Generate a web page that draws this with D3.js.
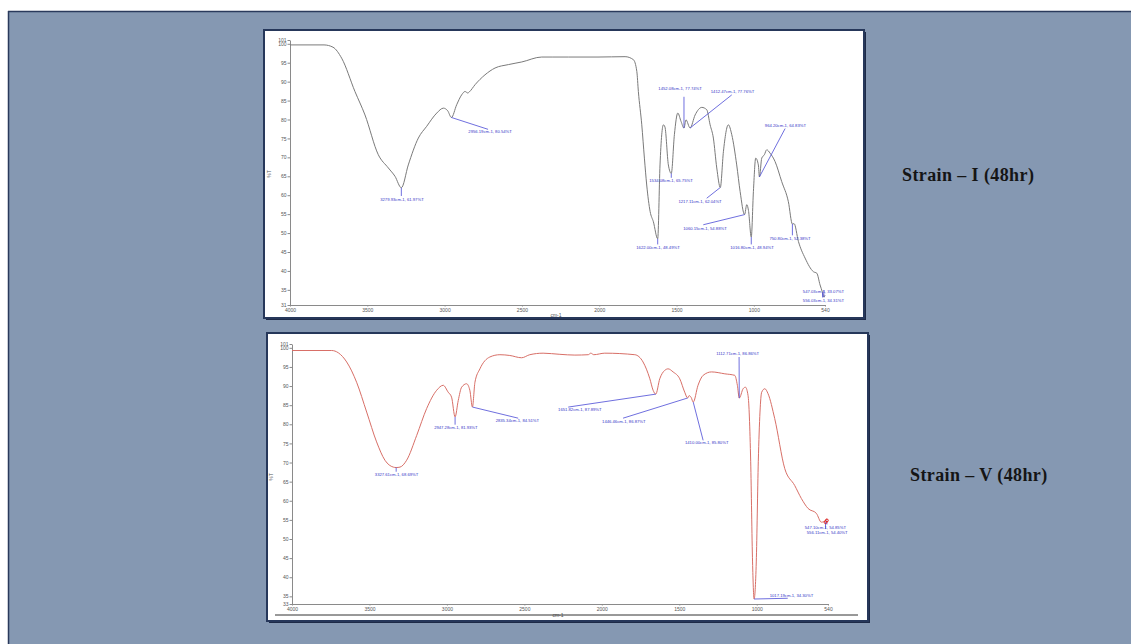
<!DOCTYPE html>
<html><head><meta charset="utf-8">
<script src="https://cdn.jsdelivr.net/npm/d3@7"></script>
<style>body{margin:0;background:#fff;} svg{display:block}</style>
</head><body>
<svg id="c" width="1131" height="644"></svg>
<script>
// ---------- DATA ----------
const xTickValues = [4000, 3500, 3000, 2500, 2000, 1500, 1000, 540];
const topYTicks = [101, 100, 95, 90, 85, 80, 75, 70, 65, 60, 55, 50, 45, 40, 35, 31];
const botYTicks = [101, 100, 95, 90, 85, 80, 75, 70, 65, 60, 55, 50, 45, 40, 35, 33];

const topTitle = "Strain \u2013 I (48hr)";
const botTitle = "Strain \u2013 V (48hr)";

// Strain I spectrum (wavenumber cm-1, %T)
const topWavenumber = [4000, 3780, 3722, 3666, 3580, 3515, 3429, 3364, 3321, 3279.93, 3235, 3170, 3116, 3051, 3008, 2980, 2956.19, 2922, 2890, 2868, 2850, 2840, 2803, 2739, 2674, 2588, 2501, 2372, 2300, 2200, 2008, 1833, 1779, 1757, 1747, 1725, 1708, 1693, 1671, 1650, 1622, 1607, 1585, 1575, 1553, 1534.08, 1514, 1492, 1471, 1452.08, 1439, 1412.47, 1380, 1337, 1305, 1283, 1262, 1240, 1217.11, 1197, 1165, 1143, 1111, 1089, 1060.15, 1046, 1035, 1016.8, 1003, 988, 971, 964.2, 949, 932, 917, 895, 863, 820, 777, 750.8, 740, 712, 669, 615, 593, 572, 556.03, 547.03, 540];
const topTransmittance = [99.7, 99.7, 99.1, 96.2, 87.4, 81.2, 70.7, 67.2, 65.0, 61.97, 68.0, 75.1, 78.2, 81.7, 83.0, 82.3, 80.54, 83.9, 86.5, 87.4, 87.0, 87.3, 89.2, 91.8, 93.6, 94.5, 95.2, 96.5, 96.5, 96.5, 96.5, 96.6, 95.8, 92.7, 87.4, 78.6, 69.8, 62.7, 55.7, 53.0, 48.49, 68.0, 78.6, 78.0, 68.0, 65.75, 76.0, 81.7, 79.5, 77.74, 79.9, 77.76, 81.2, 83.2, 82.6, 78.6, 75.1, 67.2, 62.04, 71.5, 78.6, 76.0, 68.0, 61.0, 54.88, 57.5, 56.0, 48.94, 61.0, 69.8, 68.0, 64.83, 69.8, 70.7, 72.0, 71.1, 68.9, 63.6, 58.3, 52.38, 52.5, 47.8, 43.4, 39.8, 39.4, 36.3, 34.31, 33.07, 33.6];

// Strain V spectrum
const botWavenumber = [4000, 3744, 3701, 3647, 3583, 3518, 3454, 3400, 3346, 3327.61, 3303, 3260, 3195, 3131, 3066, 3024, 2992, 2970, 2947.28, 2927, 2905, 2873, 2852, 2835.34, 2819, 2787, 2723, 2658, 2594, 2518, 2465, 2379, 2271, 2174, 2088, 2071, 2052, 1981, 1787, 1734, 1690, 1669, 1651.82, 1626, 1594, 1572, 1540, 1497, 1465, 1446.46, 1437, 1423, 1410.0, 1379, 1346, 1292, 1206, 1142, 1125, 1112.71, 1088, 1073, 1056, 1039, 1027, 1017.19, 1003, 990, 979, 968, 948, 927, 884, 819, 755, 712, 669, 615, 583, 556.11, 547.1, 540];
const botTransmittance = [99.3, 99.3, 98.7, 96.3, 91.0, 83.2, 75.4, 70.6, 68.8, 68.69, 68.8, 70.6, 77.1, 84.1, 88.9, 90.2, 88.4, 87.1, 81.93, 86.2, 89.7, 90.6, 88.9, 84.51, 91.0, 94.5, 97.6, 98.2, 98.0, 97.4, 98.2, 98.6, 98.3, 98.1, 98.2, 98.6, 98.2, 98.6, 98.2, 96.3, 91.9, 88.9, 87.89, 91.9, 94.1, 94.5, 93.7, 91.9, 88.4, 86.87, 87.5, 87.0, 85.80, 90.2, 92.8, 93.7, 93.2, 92.8, 90.2, 86.86, 89.3, 89.7, 87.5, 70.2, 44.0, 34.30, 44.0, 70.2, 83.2, 88.4, 89.3, 88.0, 81.5, 68.4, 64.0, 60.6, 58.0, 56.7, 54.40, 54.85, 55.3];

// Peak annotations: peak [wavenumber, %T] and label text
const topPeakW = [3279.93, 2956.19, 1622.00, 1534.08, 1452.08, 1412.47, 1217.11, 1060.15, 1016.80, 964.20, 750.80, 547.03, 556.03];
const topPeakT = [61.97, 80.54, 48.49, 65.75, 77.74, 77.76, 62.04, 54.88, 48.94, 64.83, 52.38, 33.07, 34.31];
const botPeakW = [3327.61, 2947.28, 2835.34, 1651.82, 1446.46, 1410.00, 1112.71, 1017.19, 547.10, 556.11];
const botPeakT = [68.69, 81.93, 84.51, 87.89, 86.87, 85.80, 86.86, 34.30, 54.85, 54.40];

// ---------- LAYOUT (label anchors in data units: [textW, textT, leaderEndW, leaderEndT]) ----------
const topLabelAt = [
  [3276, 58.8, 3279.93, 59.8], [2706, 76.8, 2719, 77.4], [1620, 46.1, 1622, 47.0], [1536, 63.8, 1534.08, 64.6],
  [1477, 88.1, 1452.08, 86.0], [1138, 87.2, 1143, 86.5], [1348, 58.2, 1305, 59.2], [1316, 51.1, 1327, 52.2],
  [1012, 46.0, 1016.8, 47.0], [796, 78.4, 798, 77.6], [766, 48.5, 750.8, 49.4], [550, 34.4, 547.03, 34.9], [550, 32.1, 556.03, 33.0]
];
const botLabelAt = [
  [3325, 66.8, 3327.61, 67.6], [2942, 79.1, 2947.28, 79.9], [2545, 80.9, 2540, 81.6], [2142, 83.8, 2217, 84.5],
  [1858, 80.6, 1863, 81.6], [1323, 75.1, 1346, 75.8], [1123, 98.4, 1114, 97.6], [776, 35.2, 800, 34.5],
  [557, 53.0, 547.1, 53.8], [545, 51.6, 556.11, 52.6]
];

const svg = d3.select('#c');

// outer slide background
svg.append('rect').attr('x', 8).attr('y', 11).attr('width', 1123).attr('height', 633).attr('fill', '#8598b2');
svg.append('line').attr('x1', 8).attr('x2', 1131).attr('y1', 11.5).attr('y2', 11.5).attr('stroke', '#2a3a5c').attr('stroke-width', 1.5);
svg.append('line').attr('x1', 8.5).attr('x2', 8.5).attr('y1', 11).attr('y2', 644).attr('stroke', '#2a3a5c').attr('stroke-width', 1.5);

function drawPanel(cfg) {
  const g = svg.append('g');
  const p = cfg.panel;
  g.append('rect').attr('x', p.x + 2).attr('y', p.y + 2).attr('width', p.w).attr('height', p.h).attr('fill', '#1d2a47');
  g.append('rect').attr('x', p.x).attr('y', p.y).attr('width', p.w).attr('height', p.h)
    .attr('fill', '#fff').attr('stroke', '#26375a').attr('stroke-width', 2);

  const x = d3.scaleLinear().domain([4000, 540]).range(cfg.xRange);
  const y = d3.scaleLinear().domain(cfg.yDomain).range(cfg.yRange);

  const yAxis = d3.axisLeft(y).tickValues(cfg.yTicks).tickSize(2.5).tickSizeOuter(0).tickPadding(1).tickFormat(d3.format('d'));
  const yg = g.append('g').attr('transform', `translate(${cfg.xRange[0]},0)`).call(yAxis);
  const xAxis = d3.axisBottom(x).tickValues(xTickValues).tickSize(1.5).tickSizeOuter(0).tickPadding(1.5).tickFormat(d3.format('d'));
  const xg = g.append('g').attr('transform', `translate(0,${cfg.yRange[0]})`).call(xAxis);
  [yg, xg].forEach(a => {
    a.select('.domain').attr('stroke', '#8a8a8a').attr('stroke-width', 1);
    a.selectAll('.tick line').attr('stroke', '#8a8a8a');
    a.selectAll('.tick text').attr('fill', '#555').style('font-size', '5px').style('font-family', 'Liberation Sans, Arial, sans-serif');
  });

  g.append('text').attr('transform', `translate(${cfg.yLabel[0]},${cfg.yLabel[1]}) rotate(-90)`)
    .attr('text-anchor', 'middle').attr('fill', '#555').style('font-size', '5px').style('font-family', 'Liberation Sans, Arial, sans-serif').text('%T');
  g.append('text').attr('x', cfg.xLabel[0]).attr('y', cfg.xLabel[1]).attr('text-anchor', 'middle')
    .attr('fill', '#555').style('font-size', '5px').style('font-family', 'Liberation Sans, Arial, sans-serif').text('cm-1');

  if (cfg.extraLineY) {
    g.append('line').attr('x1', cfg.extraLine[0]).attr('x2', cfg.extraLine[1]).attr('y1', cfg.extraLineY).attr('y2', cfg.extraLineY)
      .attr('stroke', '#333').attr('stroke-width', 1);
  }

  const pts = cfg.w.map((w, i) => [w, cfg.t[i]]);
  const line = d3.line().x(d => x(d[0])).y(d => y(d[1])).curve(d3.curveMonotoneX);
  g.append('path').datum(pts).attr('d', line).attr('fill', 'none').attr('stroke', cfg.color).attr('stroke-width', 1);

  // annotations
  cfg.peakW.forEach((pw, i) => {
    const la = cfg.labelAt[i];
    g.append('line').attr('x1', x(pw)).attr('y1', y(cfg.peakT[i])).attr('x2', x(la[2])).attr('y2', y(la[3]))
      .attr('stroke', '#4a4ad6').attr('stroke-width', 0.8);
    g.append('text').attr('x', x(la[0])).attr('y', y(la[1])).attr('text-anchor', 'middle').attr('dominant-baseline', 'middle')
      .attr('fill', '#3535c8').style('font-size', '4.2px').style('font-family', 'Liberation Sans, Arial, sans-serif')
      .text(`${pw.toFixed(2)}cm-1, ${cfg.peakT[i].toFixed(2)}%T`);
  });
  if (cfg.endMarks) {
    cfg.peakW.slice(-2).forEach((pw, i) => {
      const tv = cfg.peakT.slice(-2)[i];
      g.append('circle').attr('cx', x(pw)).attr('cy', y(tv)).attr('r', 1.4).attr('fill', 'none').attr('stroke', '#e02020').attr('stroke-width', 1);
    });
  }

  g.append('text').attr('x', cfg.title[0]).attr('y', cfg.title[1]).attr('fill', '#151515')
    .style('font-family', 'Liberation Serif, Times New Roman, serif').style('font-weight', 'bold').style('font-size', '18px')
    .style('letter-spacing', '0.4px')
    .text(cfg.titleText);
}

drawPanel({
  panel: {x: 264, y: 30, w: 600, h: 288},
  xRange: [290, 825], yDomain: [31, 101], yRange: [305, 40], yTicks: topYTicks,
  yLabel: [271, 174], xLabel: [556, 317],
  w: topWavenumber, t: topTransmittance, color: '#7a7a7a',
  peakW: topPeakW, peakT: topPeakT, labelAt: topLabelAt,
  title: [902, 181], titleText: topTitle
});
drawPanel({
  panel: {x: 267, y: 333, w: 601, h: 288},
  xRange: [292, 828], yDomain: [33, 101], yRange: [604, 344], yTicks: botYTicks,
  yLabel: [273, 477], xLabel: [558, 617],
  extraLineY: 615, extraLine: [275, 858],
  w: botWavenumber, t: botTransmittance, color: '#d86f67',
  peakW: botPeakW, peakT: botPeakT, labelAt: botLabelAt, endMarks: true,
  title: [910, 481], titleText: botTitle
});
</script>
</body></html>
